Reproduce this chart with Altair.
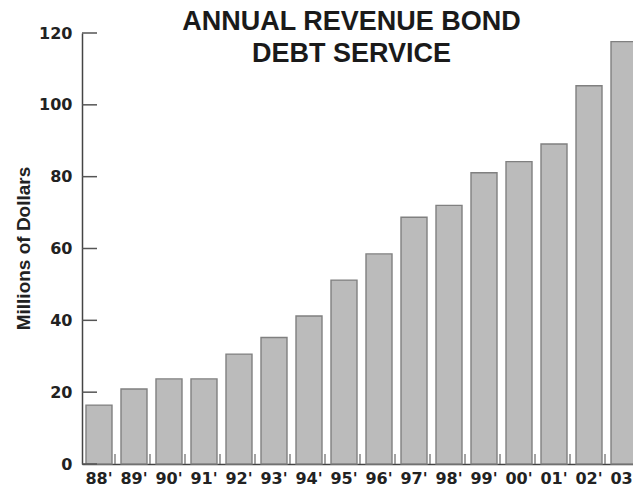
import altair as alt
import pandas as pd

years = ["88'", "89'", "90'", "91'", "92'", "93'", "94'", "95'",
         "96'", "97'", "98'", "99'", "00'", "01'", "02'", "03'"]
debt = [16.4, 20.9, 23.7, 23.7, 30.6, 35.2, 41.2, 51.2,
        58.5, 68.7, 72.0, 81.1, 84.2, 89.1, 105.3, 117.6]
y_ticks = [0, 20, 40, 60, 80, 100, 120]

df = pd.DataFrame({"year": years, "debt": debt})
tick_df = pd.DataFrame({"v": y_ticks})
sep_df = pd.DataFrame({"year": years[1:]})

xscale = alt.Scale(domain=years, range=[0, 559], paddingInner=0.257, paddingOuter=0.114)
yscale = alt.Scale(domain=[0, 120], nice=False)

bars = alt.Chart(df).mark_bar(
    fill="#bbbbbb", stroke="#808080", strokeWidth=1.4
).encode(
    x=alt.X("year:N", scale=xscale, sort=None,
            axis=alt.Axis(title=None, labelAngle=0, ticks=False, labelPadding=6,
                          labelFont="DejaVu Sans", labelFontWeight="bold",
                          labelFontSize=16, labelColor="#222222",
                          domainColor="#444444", domainWidth=1.5)),
    y=alt.Y("debt:Q", scale=yscale,
            axis=alt.Axis(values=y_ticks, ticks=False, grid=False,
                          title="Millions of Dollars",
                          titleFont="Liberation Sans", titleFontWeight="bold",
                          titleFontSize=19, titleColor="#222222",
                          titleX=-59, titleY=215, titleAngle=270,
                          titleBaseline="middle", titleAlign="center",
                          labelFont="DejaVu Sans", labelFontWeight="bold",
                          labelFontSize=16, labelColor="#222222", labelPadding=10,
                          domainColor="#444444", domainWidth=1.5))
)

yticks = alt.Chart(tick_df).mark_rule(color="#555555", strokeWidth=1.5).encode(
    y=alt.Y("v:Q", scale=yscale),
    x=alt.value(0),
    x2=alt.value(15),
)

seps = alt.Chart(sep_df).mark_rule(color="#666666", strokeWidth=1.2, xOffset=-6).encode(
    x=alt.X("year:N", scale=xscale, sort=None, bandPosition=0),
    y=alt.datum(0),
    y2=alt.datum(2.8),
)

chart = alt.layer(bars, yticks, seps).properties(
    width=551,
    height=431,
    background="white",
    title=alt.TitleParams(
        text=["ANNUAL REVENUE BOND", "DEBT SERVICE"],
        font="Liberation Sans", fontWeight="bold", fontSize=27,
        color="#1a1a1a", lineHeight=32, anchor="middle",
        offset=0, dy=43, dx=-6,
    ),
    autosize=alt.AutoSizeParams(type="none"),
    padding={"left": 82, "top": 33, "right": 0, "bottom": 23},
).configure_view(stroke=None)

chart.save("out.html", embed_options={"renderer": "svg", "actions": False})
